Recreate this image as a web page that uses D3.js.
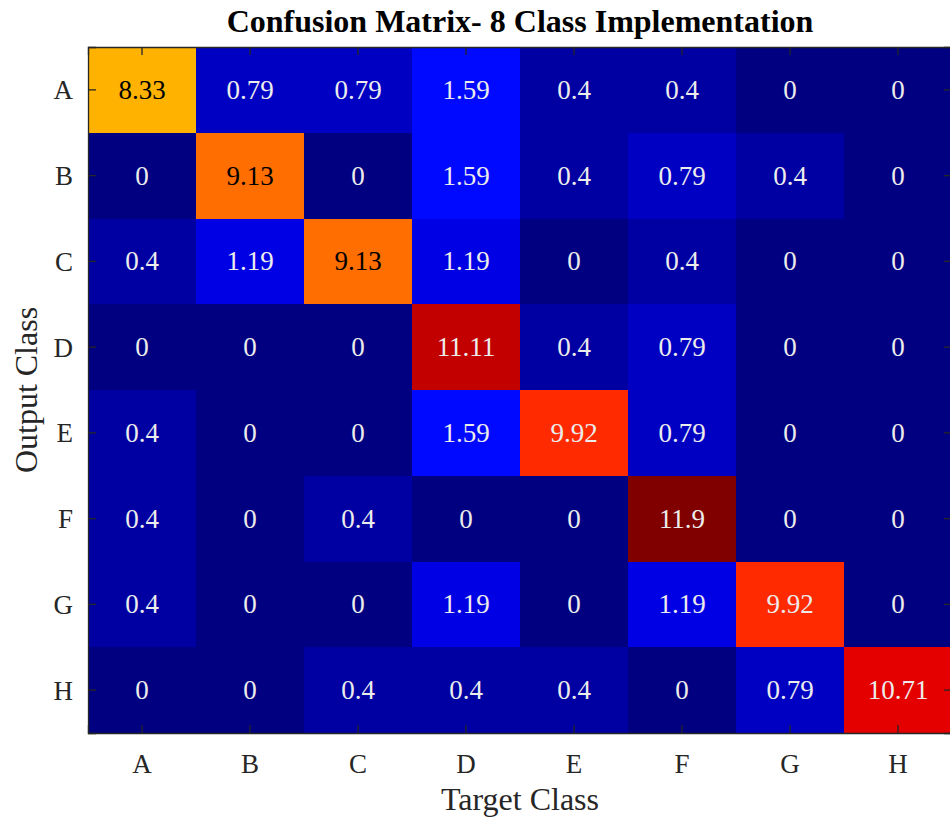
<!DOCTYPE html>
<html>
<head>
<meta charset="utf-8">
<script src="https://cdn.jsdelivr.net/npm/d3@7"></script>
<style>
  body { margin: 0; background: #fff; }
  svg { display: block; font-family: 'Liberation Serif', 'DejaVu Serif', serif; }
</style>
</head>
<body>
<svg id="chart" width="950" height="820"></svg>
<script>
const classes = ['A', 'B', 'C', 'D', 'E', 'F', 'G', 'H']

// rows = output class, columns = target class
const matrix = [
  [8.33, 0.79, 0.79, 1.59, 0.4, 0.4, 0, 0],
  [0, 9.13, 0, 1.59, 0.4, 0.79, 0.4, 0],
  [0.4, 1.19, 9.13, 1.19, 0, 0.4, 0, 0],
  [0, 0, 0, 11.11, 0.4, 0.79, 0, 0],
  [0.4, 0, 0, 1.59, 9.92, 0.79, 0, 0],
  [0.4, 0, 0.4, 0, 0, 11.9, 0, 0],
  [0.4, 0, 0, 1.19, 0, 1.19, 9.92, 0],
  [0, 0, 0.4, 0.4, 0.4, 0, 0.79, 10.71],
]

const titleText = 'Confusion Matrix- 8 Class Implementation'
const xLabel = 'Target Class'
const yLabel = 'Output Class'

const margin = { top: 47, left: 88 }
const plotW = 864
const plotH = 686
const axisColor = '#262626'

const svg = d3.select('#chart')

const x = d3.scaleBand().domain(classes).range([margin.left, margin.left + plotW])
const y = d3.scaleBand().domain(classes).range([margin.top, margin.top + plotH])

// MATLAB-style jet colormap
const jet = (t) => {
  const c = (v) => Math.round(255 * Math.max(0, Math.min(1, v)))
  return d3.rgb(c(1.5 - Math.abs(4 * t - 3)), c(1.5 - Math.abs(4 * t - 2)), c(1.5 - Math.abs(4 * t - 1)))
}
const maxVal = d3.max(matrix.flat())
const color = d3.scaleSequential(jet).domain([0, maxVal])

const cells = matrix.flatMap((row, i) =>
  row.map((v, j) => ({ row: classes[i], col: classes[j], value: v })),
)

const cell = svg.append('g')
  .selectAll('g')
  .data(cells)
  .join('g')

cell.append('rect')
  .attr('x', (d) => x(d.col))
  .attr('y', (d) => y(d.row))
  .attr('width', x.bandwidth())
  .attr('height', y.bandwidth())
  .attr('shape-rendering', 'crispEdges')
  .attr('fill', (d) => color(d.value))

cell.append('text')
  .attr('x', (d) => x(d.col) + x.bandwidth() / 2)
  .attr('y', (d) => y(d.row) + y.bandwidth() / 2)
  .attr('text-anchor', 'middle')
  .attr('dominant-baseline', 'central')
  .attr('font-size', 27)
  .attr('fill', (d) => {
    const c = d3.rgb(color(d.value))
    const lum = 0.299 * c.r + 0.587 * c.g + 0.114 * c.b
    return lum > 120 ? '#000' : '#ececec'
  })
  .text((d) => d.value)

// axes with inward ticks on all four sides
const tickLen = 8
const axBottom = svg.append('g')
  .attr('transform', `translate(0,${margin.top + plotH})`)
  .call(d3.axisBottom(x).tickSize(-tickLen).tickPadding(21))
const axTop = svg.append('g')
  .attr('transform', `translate(0,${margin.top})`)
  .call(d3.axisTop(x).tickSize(-tickLen).tickFormat(''))
const axLeft = svg.append('g')
  .attr('transform', `translate(${margin.left},0)`)
  .call(d3.axisLeft(y).tickSize(-tickLen).tickPadding(15))
const axRight = svg.append('g')
  .attr('transform', `translate(${margin.left + plotW},0)`)
  .call(d3.axisRight(y).tickSize(-tickLen).tickFormat(''))

for (const g of [axBottom, axTop, axLeft, axRight]) {
  g.select('.domain').attr('stroke', axisColor).attr('stroke-width', 1.3)
  g.selectAll('.tick line').attr('stroke', axisColor).attr('stroke-width', 1.3)
  g.selectAll('.tick text')
    .attr('fill', axisColor)
    .attr('font-size', 27)
    .attr('font-family', "'Liberation Serif', serif")
}
axBottom.selectAll('.tick text').attr('dy', '0.71em')
axLeft.selectAll('.tick text').attr('dy', '0.35em')

svg.append('text')
  .attr('x', margin.left + plotW / 2)
  .attr('y', 32)
  .attr('text-anchor', 'middle')
  .attr('font-size', 32)
  .attr('font-weight', 'bold')
  .attr('fill', '#000')
  .text(titleText)

svg.append('text')
  .attr('x', margin.left + plotW / 2)
  .attr('y', 810)
  .attr('text-anchor', 'middle')
  .attr('font-size', 32)
  .attr('fill', axisColor)
  .text(xLabel)

svg.append('text')
  .attr('transform', `translate(37,${margin.top + plotH / 2}) rotate(-90)`)
  .attr('text-anchor', 'middle')
  .attr('font-size', 32)
  .attr('fill', axisColor)
  .text(yLabel)
</script>
</body>
</html>
